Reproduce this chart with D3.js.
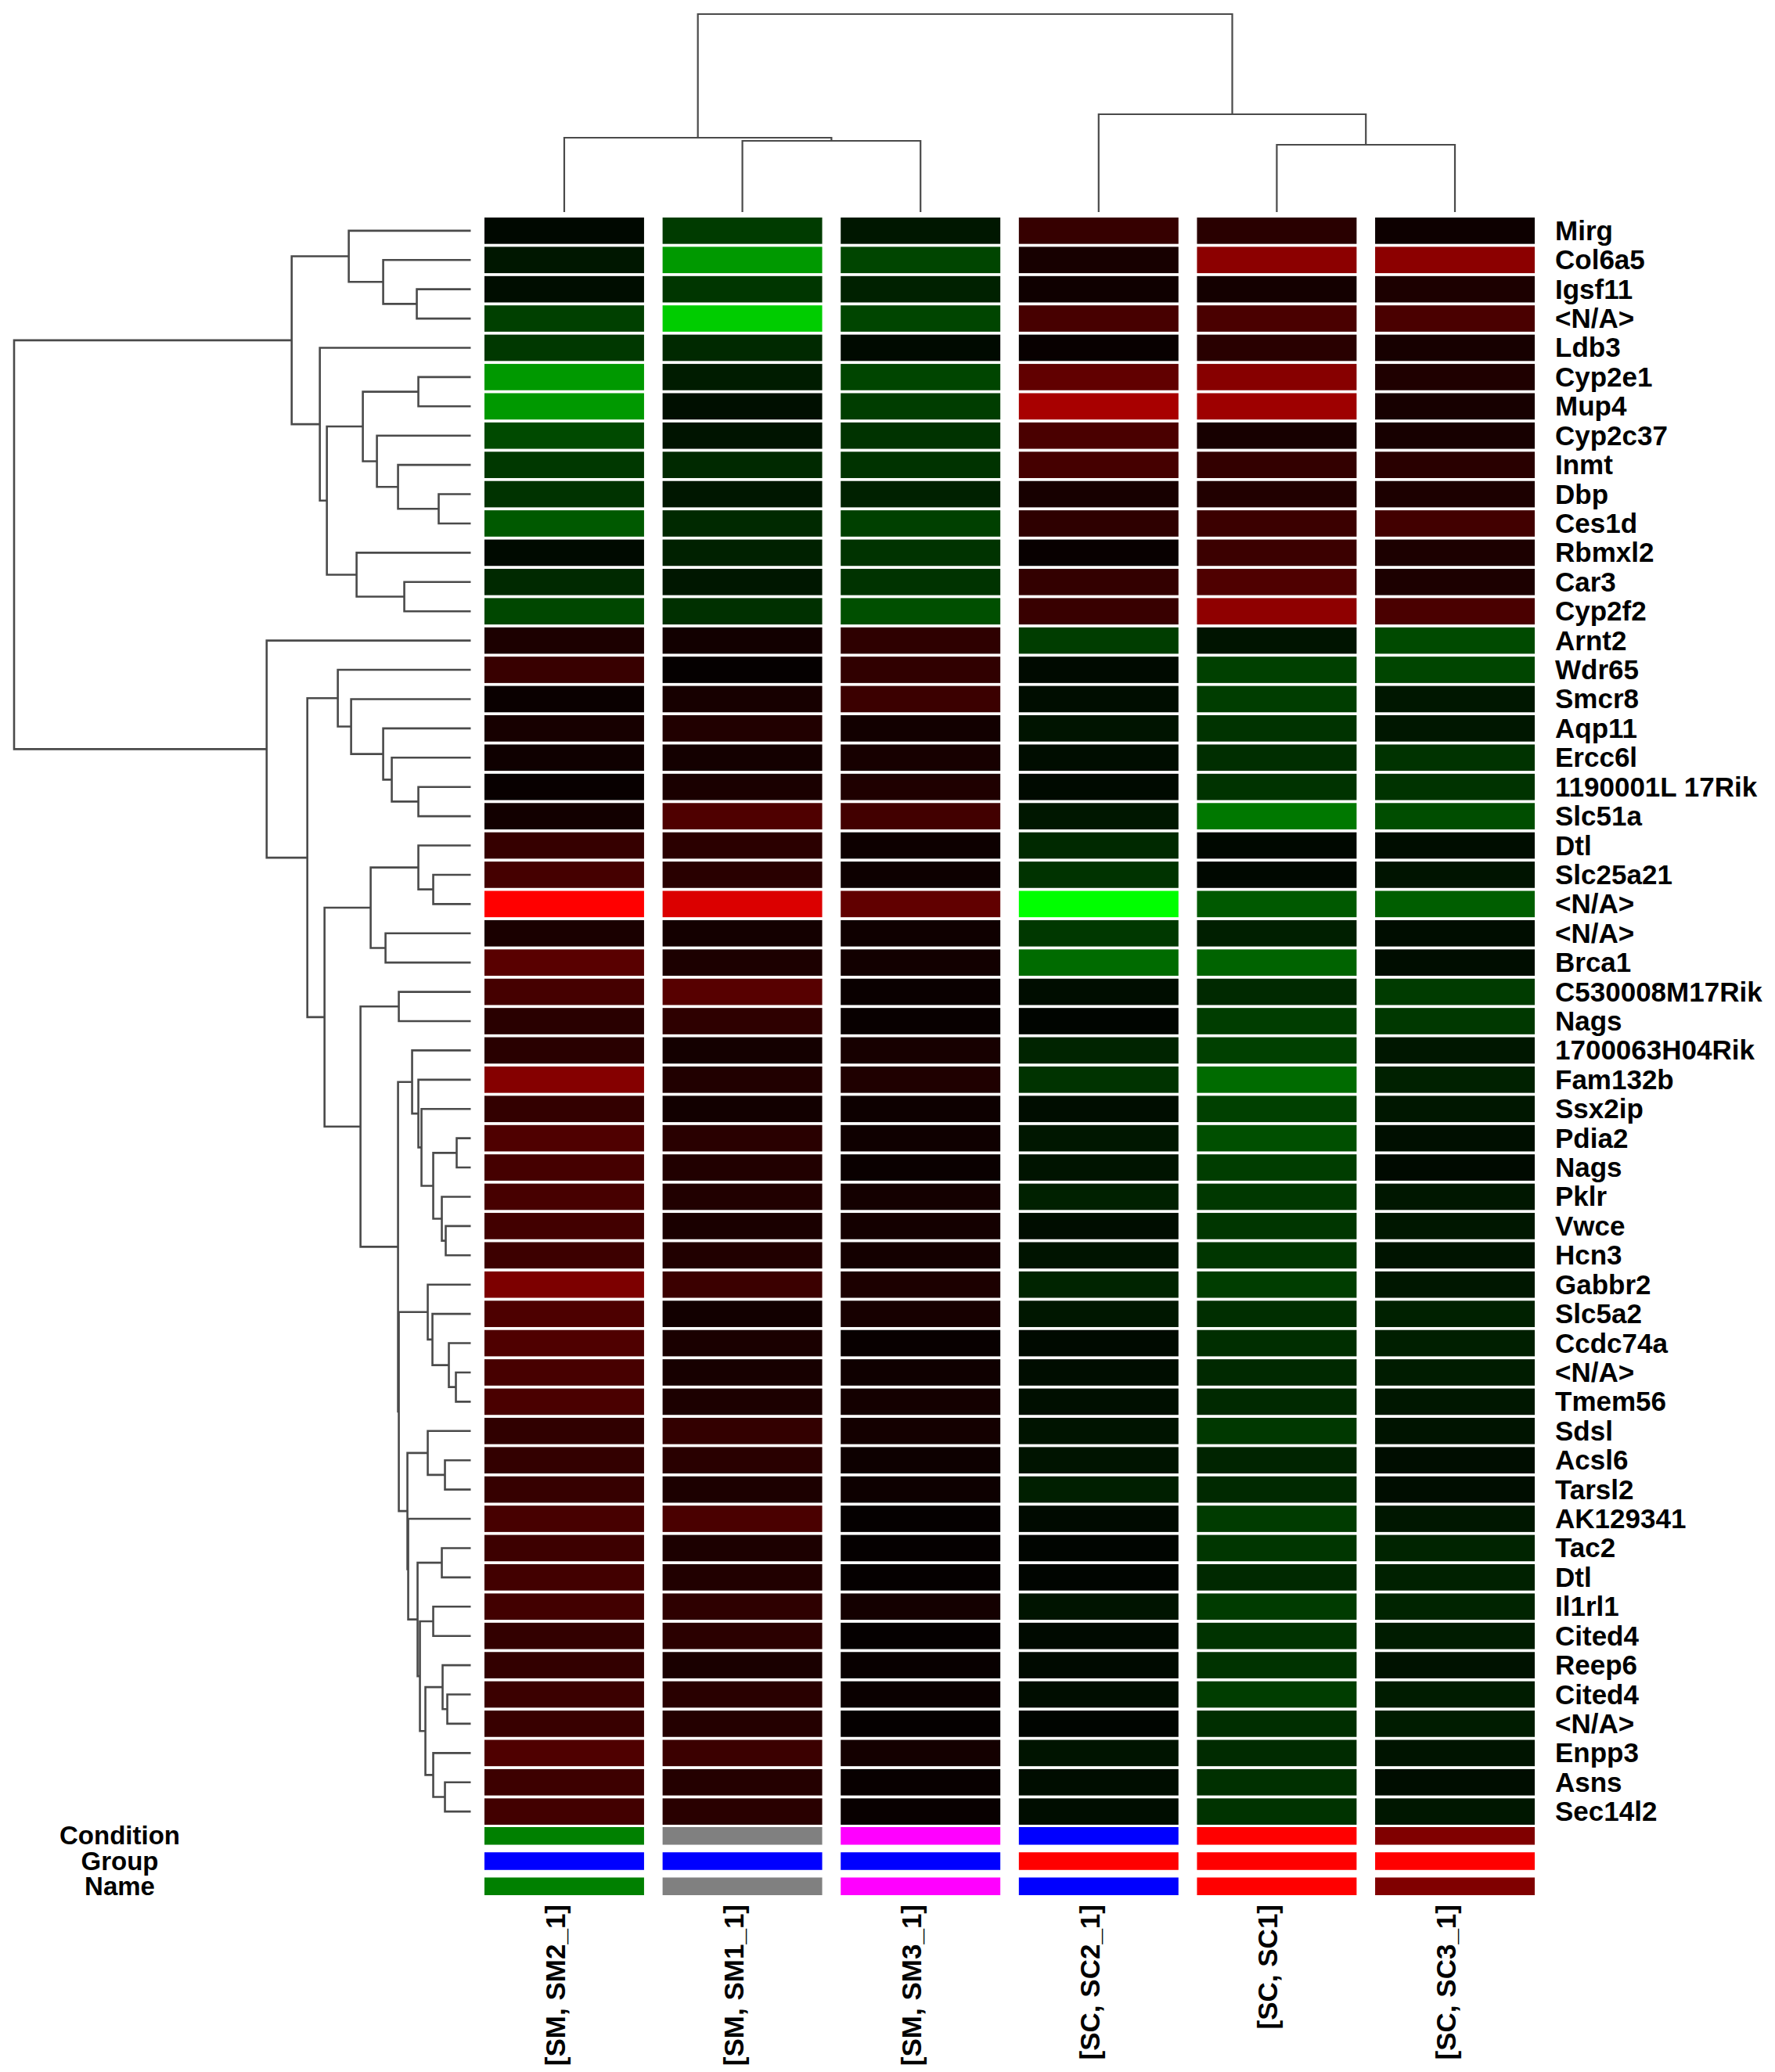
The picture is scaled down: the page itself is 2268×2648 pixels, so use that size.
<!DOCTYPE html>
<html>
<head>
<meta charset="utf-8">
<script src="https://cdn.jsdelivr.net/npm/d3@7"></script>
<style>
  body { margin: 0; background: #fff; }
  text { font-family: "Liberation Sans", Arial, sans-serif; font-weight: bold; fill: #000; }
</style>
</head>
<body>
<svg id="chart" width="2268" height="2648"></svg>
<script>
// gene labels, top to bottom
const genes = ["Mirg","Col6a5","Igsf11","<N/A>","Ldb3","Cyp2e1","Mup4","Cyp2c37","Inmt","Dbp",
  "Ces1d","Rbmxl2","Car3","Cyp2f2","Arnt2","Wdr65","Smcr8","Aqp11","Ercc6l","1190001L 17Rik",
  "Slc51a","Dtl","Slc25a21","<N/A>","<N/A>","Brca1","C530008M17Rik","Nags","1700063H04Rik","Fam132b",
  "Ssx2ip","Pdia2","Nags","Pklr","Vwce","Hcn3","Gabbr2","Slc5a2","Ccdc74a","<N/A>",
  "Tmem56","Sdsl","Acsl6","Tarsl2","AK129341","Tac2","Dtl","Il1rl1","Cited4","Reep6",
  "Cited4","<N/A>","Enpp3","Asns","Sec14l2"];

const samples = ["[SM, SM2_1]","[SM, SM1_1]","[SM, SM3_1]","[SC, SC2_1]","[SC, SC1]","[SC, SC3_1]"];

// expression (red = up, green = down), one row per gene, one column per sample
const values = [
  [-0.03,-0.23,-0.09, 0.21, 0.16, 0.05],
  [-0.09,-0.60,-0.27, 0.09, 0.55, 0.55],
  [-0.05,-0.21,-0.13, 0.06, 0.08, 0.11],
  [-0.25,-0.80,-0.27, 0.28, 0.29, 0.29],
  [-0.22,-0.16,-0.04, 0.03, 0.16, 0.09],
  [-0.60,-0.11,-0.27, 0.38, 0.53, 0.12],
  [-0.60,-0.06,-0.24, 0.66, 0.62, 0.09],
  [-0.29,-0.08,-0.20, 0.29, 0.09, 0.09],
  [-0.22,-0.16,-0.20, 0.27, 0.20, 0.16],
  [-0.20,-0.09,-0.13, 0.09, 0.13, 0.11],
  [-0.35,-0.16,-0.25, 0.18, 0.23, 0.26],
  [-0.04,-0.13,-0.20, 0.03, 0.23, 0.11],
  [-0.16,-0.09,-0.20, 0.20, 0.31, 0.11],
  [-0.28,-0.19,-0.31, 0.22, 0.56, 0.29],
  [ 0.11, 0.07, 0.18,-0.24,-0.08,-0.29],
  [ 0.22, 0.02, 0.19,-0.04,-0.25,-0.27],
  [ 0.04, 0.09, 0.23,-0.05,-0.24,-0.09],
  [ 0.09, 0.13, 0.07,-0.08,-0.20,-0.09],
  [ 0.06, 0.08, 0.09,-0.05,-0.18,-0.20],
  [ 0.03, 0.10, 0.12,-0.04,-0.20,-0.20],
  [ 0.07, 0.31, 0.26,-0.09,-0.47,-0.30],
  [ 0.21, 0.17, 0.05,-0.16,-0.03,-0.05],
  [ 0.27, 0.16, 0.05,-0.20,-0.03,-0.08],
  [ 1.00, 0.86, 0.38,-1.00,-0.35,-0.37],
  [ 0.10, 0.08, 0.06,-0.22,-0.12,-0.05],
  [ 0.35, 0.11, 0.07,-0.42,-0.39,-0.05],
  [ 0.27, 0.34, 0.04,-0.05,-0.16,-0.23],
  [ 0.16, 0.18, 0.03,-0.02,-0.24,-0.22],
  [ 0.16, 0.08, 0.09,-0.14,-0.25,-0.09],
  [ 0.52, 0.13, 0.12,-0.20,-0.42,-0.13],
  [ 0.20, 0.07, 0.05,-0.05,-0.25,-0.09],
  [ 0.31, 0.16, 0.06,-0.09,-0.31,-0.06],
  [ 0.27, 0.13, 0.04,-0.08,-0.24,-0.04],
  [ 0.28, 0.13, 0.08,-0.13,-0.22,-0.09],
  [ 0.26, 0.10, 0.08,-0.05,-0.21,-0.09],
  [ 0.24, 0.13, 0.08,-0.08,-0.21,-0.08],
  [ 0.49, 0.23, 0.11,-0.14,-0.24,-0.09],
  [ 0.30, 0.07, 0.09,-0.09,-0.18,-0.13],
  [ 0.31, 0.10, 0.03,-0.04,-0.18,-0.12],
  [ 0.28, 0.09, 0.06,-0.05,-0.16,-0.11],
  [ 0.29, 0.11, 0.08,-0.06,-0.16,-0.09],
  [ 0.19, 0.20, 0.08,-0.08,-0.22,-0.08],
  [ 0.20, 0.16, 0.05,-0.08,-0.14,-0.05],
  [ 0.21, 0.11, 0.05,-0.12,-0.16,-0.05],
  [ 0.28, 0.29, 0.02,-0.04,-0.23,-0.09],
  [ 0.24, 0.11, 0.02,-0.02,-0.21,-0.14],
  [ 0.26, 0.13, 0.02,-0.02,-0.16,-0.13],
  [ 0.26, 0.18, 0.08,-0.08,-0.23,-0.14],
  [ 0.20, 0.17, 0.02,-0.04,-0.20,-0.11],
  [ 0.20, 0.10, 0.03,-0.04,-0.20,-0.07],
  [ 0.23, 0.16, 0.04,-0.05,-0.24,-0.11],
  [ 0.22, 0.14, 0.02,-0.02,-0.18,-0.11],
  [ 0.31, 0.23, 0.08,-0.08,-0.17,-0.08],
  [ 0.24, 0.14, 0.03,-0.05,-0.19,-0.05],
  [ 0.26, 0.16, 0.03,-0.05,-0.20,-0.09]
];

// dendrograms: [height, left, right], leaves are row / column indices
const rowTree = [5.84,
  [2.29,
    [1.56, 0, [1.12, 1, [0.69, 2, 3]]],
    [1.93, 4, [1.84,
      [1.38, [0.67, 5, 6], [1.20, 7, [0.93, 8, [0.41, 9, 10]]]],
      [1.46, 11, [0.85, 12, 13]]]]],
  [2.61, 14, [2.09,
    [1.70, 15, [1.53, 16, [1.12, 17, [1.01, 18, [0.67, 19, 20]]]]],
    [1.87,
      [1.28, [0.67, 21, [0.48, 22, 23]], [1.09, 24, 25]],
      [1.41, [0.92, 26, 27],
        [0.93,
          [0.75, 28, [0.67, 29, [0.63, 30, [0.48, [0.18, 31, 32], [0.37, 33, [0.32, 34, 35]]]]]],
          [0.92,
            [0.55, 36, [0.49, 37, [0.28, 38, [0.19, 39, 40]]]],
            [0.81,
              [0.55, 41, [0.33, 42, 43]],
              [0.80, 44, [0.68, [0.37, 45, 46],
                [0.65, [0.48, 47, 48],
                  [0.58, [0.36, 49, [0.30, 50, 51]], [0.48, 52, [0.33, 53, 54]]]]]]]]]]]]]];

const colTree = [2.53, [0.95, 0, [0.91, 1, 2]], [1.25, 3, [0.86, 4, 5]]];

// annotation tracks under the heatmap
const annotNames = ["Condition", "Group", "Name"];
const conditionColors = ["#008000", "#808080", "#ff00ff", "#0000ff", "#ff0000", "#800000"];
const groupColors = ["#0000ff", "#0000ff", "#0000ff", "#ff0000", "#ff0000", "#ff0000"];
const nameColors = ["#008000", "#808080", "#ff00ff", "#0000ff", "#ff0000", "#800000"];
const annotColors = [conditionColors, groupColors, nameColors];

const svg = d3.select("#chart");

let x = d3.scaleBand().domain(d3.range(samples.length)).range([619, 1961]).paddingInner(0.104);
let y = d3.scaleBand().domain(d3.range(genes.length)).range([278, 2332]).paddingInner(0.1);
let color = d3.scaleLinear().domain([-1, 0, 1]).range(["#00ff00", "#000000", "#ff0000"]);

// heatmap cells
let cells = [];
values.forEach((r, i) => r.forEach((v, j) => cells.push({i, j, v})));
svg.append("g").selectAll("rect").data(cells).join("rect")
  .attr("x", d => x(d.j)).attr("y", d => y(d.i))
  .attr("width", x.bandwidth()).attr("height", y.bandwidth())
  .attr("fill", d => color(d.v));

// gene labels
svg.append("g").selectAll("text").data(genes).join("text")
  .attr("x", 1987).attr("y", (d, i) => y(i) + y.bandwidth() / 2 + 12)
  .attr("font-size", 35)
  .text(d => d);

// dendrogram walker: collects elbow segments
function walk(node, pos, segs) {
  if (typeof node === "number") return {p: pos(node), h: 0};
  let a = walk(node[1], pos, segs), b = walk(node[2], pos, segs);
  segs.push({h: node[0], a, b});
  return {p: (a.p + b.p) / 2, h: node[0]};
}

let rowPos = i => y(i) + y.bandwidth() / 2,
    colPos = j => x(j) + x.bandwidth() / 2;

let rowSegs = [], colSegs = [];
walk(rowTree, rowPos, rowSegs);
walk(colTree, colPos, colSegs);

let hx = d3.scaleLinear().domain([0, 5.84]).range([601.5, 18]);
let hy = d3.scaleLinear().domain([0, 2.53]).range([271, 18]);

svg.append("g").selectAll("path").data(rowSegs).join("path")
  .attr("d", s => "M" + hx(s.a.h) + "," + s.a.p + "H" + hx(s.h) + "V" + s.b.p + "H" + hx(s.b.h))
  .attr("fill", "none").attr("stroke", "#4a4a4a").attr("stroke-width", 2.6);

svg.append("g").selectAll("path").data(colSegs).join("path")
  .attr("d", s => "M" + s.a.p + "," + hy(s.a.h) + "V" + hy(s.h) + "H" + s.b.p + "V" + hy(s.b.h))
  .attr("fill", "none").attr("stroke", "#4a4a4a").attr("stroke-width", 2.2);

// annotation bars
let ya = d3.scaleBand().domain(annotNames).range([2335, 2422]).paddingInner(0.3);
let bars = [];
annotColors.forEach((cols, k) => cols.forEach((c, j) => bars.push({k, j, c})));
svg.append("g").selectAll("rect").data(bars).join("rect")
  .attr("x", d => x(d.j)).attr("y", d => ya(annotNames[d.k]))
  .attr("width", x.bandwidth()).attr("height", ya.bandwidth())
  .attr("fill", d => d.c);

// track names sit tight together, as in the original
svg.append("g").selectAll("text").data(annotNames).join("text")
  .attr("x", 153).attr("y", d => ya(d) + ya.bandwidth() / 2 + 11)
  .attr("text-anchor", "middle").attr("font-size", 33)
  .text(d => d);

// sample labels, rotated
svg.append("g").selectAll("text").data(samples).join("text")
  .attr("transform", (d, j) => "translate(" + (colPos(j) + 1) + ",2434) rotate(-90)")
  .attr("text-anchor", "end").attr("font-size", 35)
  .text(d => d);
</script>
</body>
</html>
